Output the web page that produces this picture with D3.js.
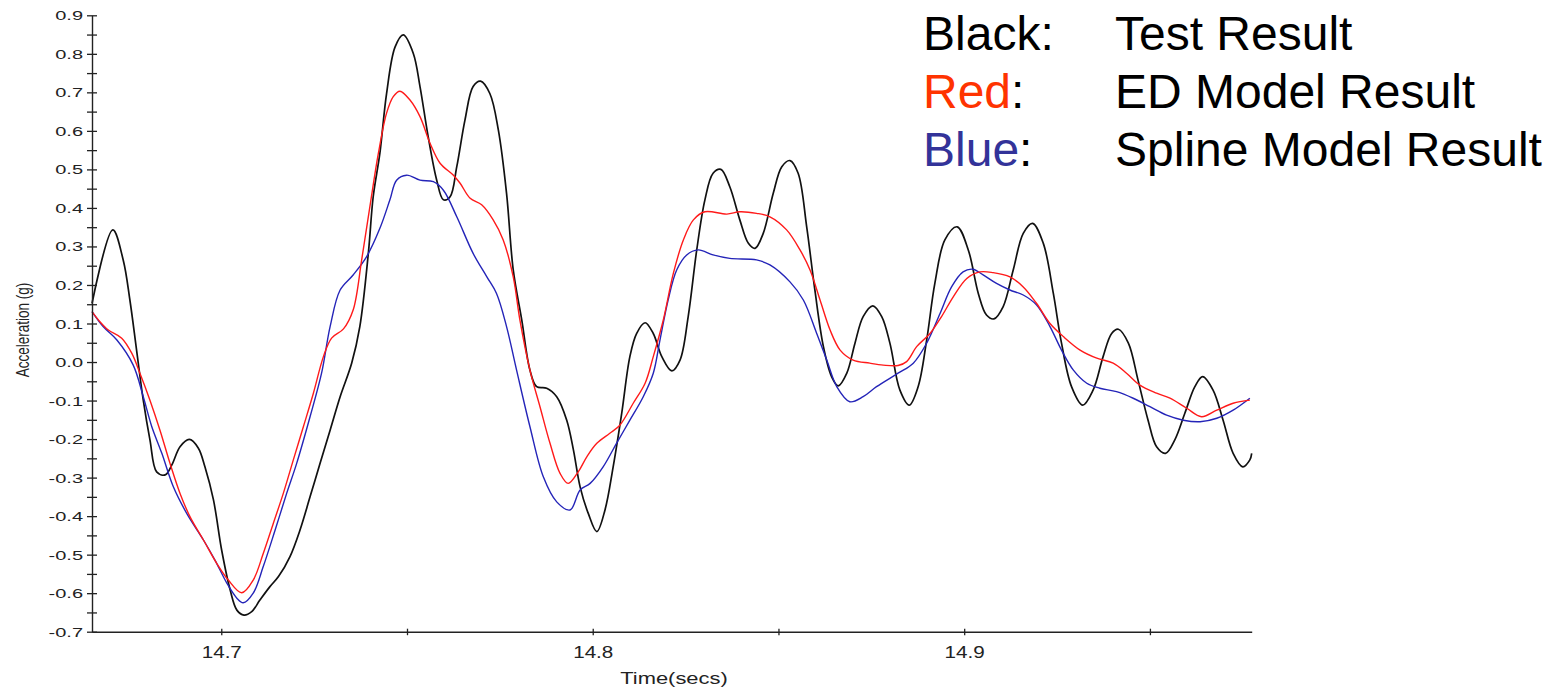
<!DOCTYPE html>
<html>
<head>
<meta charset="utf-8">
<script src="https://cdn.jsdelivr.net/npm/d3@7"></script>
<style>
  html, body { margin: 0; padding: 0; background: #ffffff; }
  svg { display: block; font-family: "Liberation Sans", Arial, sans-serif; }
</style>
</head>
<body>
<svg id="chart" width="1566" height="690"></svg>
<script>
// Measured acceleration (g) versus time (s)
const testResult = [
  [14.6652,0.152],[14.6708,0.343],[14.6736,0.265],[14.6754,0.161],[14.6772,0.031],
  [14.6790,-0.099],[14.6808,-0.202],[14.6826,-0.285],[14.6849,-0.293],[14.6867,-0.267],
  [14.6889,-0.220],[14.6914,-0.201],[14.6938,-0.223],[14.6956,-0.272],[14.6979,-0.358],
  [14.7001,-0.488],[14.7024,-0.592],[14.7042,-0.644],[14.7061,-0.657],[14.7082,-0.648],
  [14.7104,-0.618],[14.7131,-0.583],[14.7154,-0.557],[14.7185,-0.505],[14.7212,-0.436],
  [14.7239,-0.350],[14.7266,-0.263],[14.7293,-0.177],[14.7320,-0.090],[14.7351,-0.003],
  [14.7373,0.092],[14.7396,0.283],[14.7409,0.429],[14.7427,0.542],[14.7445,0.697],
  [14.7468,0.818],[14.7490,0.849],[14.7517,0.801],[14.7535,0.715],[14.7557,0.585],
  [14.7580,0.472],[14.7598,0.421],[14.7616,0.429],[14.7634,0.507],[14.7656,0.628],
  [14.7678,0.715],[14.7698,0.729],[14.7723,0.697],[14.7746,0.602],[14.7768,0.438],
  [14.7786,0.239],[14.7809,0.109],[14.7831,-0.021],[14.7849,-0.064],[14.7876,-0.068],
  [14.7903,-0.090],[14.7930,-0.151],[14.7948,-0.228],[14.7966,-0.324],[14.7988,-0.393],
  [14.8011,-0.440],[14.8033,-0.384],[14.8055,-0.272],[14.8078,-0.133],[14.8100,0.014],
  [14.8118,0.074],[14.8141,0.102],[14.8163,0.074],[14.8186,0.014],[14.8213,-0.023],
  [14.8235,0.005],[14.8257,0.118],[14.8280,0.291],[14.8302,0.421],[14.8324,0.490],
  [14.8345,0.500],[14.8369,0.455],[14.8396,0.369],[14.8419,0.308],[14.8437,0.295],
  [14.8459,0.334],[14.8486,0.438],[14.8509,0.507],[14.8531,0.523],[14.8553,0.490],
  [14.8576,0.351],[14.8598,0.187],[14.8621,0.040],[14.8643,-0.038],[14.8661,-0.062],
  [14.8684,-0.029],[14.8706,0.049],[14.8728,0.118],[14.8754,0.146],[14.8778,0.118],
  [14.8800,0.049],[14.8827,-0.073],[14.8852,-0.112],[14.8876,-0.064],[14.8899,0.057],
  [14.8921,0.204],[14.8948,0.317],[14.8981,0.351],[14.9011,0.291],[14.9038,0.178],
  [14.9060,0.122],[14.9080,0.112],[14.9105,0.144],[14.9132,0.239],[14.9159,0.334],
  [14.9184,0.360],[14.9213,0.308],[14.9240,0.178],[14.9262,0.049],[14.9289,-0.064],
  [14.9319,-0.112],[14.9347,-0.073],[14.9374,0.014],[14.9397,0.074],[14.9415,0.085],
  [14.9442,0.049],[14.9468,-0.047],[14.9495,-0.151],[14.9518,-0.220],[14.9542,-0.237],
  [14.9567,-0.202],[14.9594,-0.133],[14.9621,-0.064],[14.9642,-0.038],[14.9670,-0.073],
  [14.9697,-0.151],[14.9724,-0.237],[14.9750,-0.272],[14.9769,-0.254],[14.9774,-0.237]
];

// ED model prediction
const edModel = [
  [14.6652,0.131],[14.6674,0.104],[14.6696,0.083],[14.6732,0.062],[14.6759,0.023],
  [14.6781,-0.029],[14.6808,-0.099],[14.6835,-0.177],[14.6862,-0.263],[14.6889,-0.341],
  [14.6916,-0.402],[14.6952,-0.462],[14.6988,-0.523],[14.7019,-0.566],[14.7055,-0.599],
  [14.7086,-0.566],[14.7113,-0.497],[14.7140,-0.419],[14.7167,-0.341],[14.7194,-0.254],
  [14.7221,-0.168],[14.7248,-0.081],[14.7275,0.014],[14.7297,0.062],[14.7329,0.086],
  [14.7355,0.135],[14.7378,0.265],[14.7400,0.403],[14.7423,0.542],[14.7445,0.646],
  [14.7463,0.689],[14.7481,0.703],[14.7508,0.680],[14.7535,0.637],[14.7562,0.568],
  [14.7589,0.516],[14.7625,0.485],[14.7643,0.464],[14.7670,0.425],[14.7701,0.408],
  [14.7732,0.369],[14.7759,0.317],[14.7786,0.221],[14.7804,0.109],[14.7831,-0.021],
  [14.7858,-0.116],[14.7885,-0.211],[14.7912,-0.289],[14.7934,-0.315],[14.7961,-0.285],
  [14.7984,-0.246],[14.8011,-0.211],[14.8046,-0.185],[14.8073,-0.164],[14.8109,-0.107],
  [14.8141,-0.055],[14.8163,0.014],[14.8190,0.109],[14.8217,0.230],[14.8244,0.317],
  [14.8271,0.369],[14.8302,0.390],[14.8361,0.384],[14.8396,0.390],[14.8441,0.386],
  [14.8477,0.377],[14.8522,0.343],[14.8558,0.291],[14.8585,0.239],[14.8612,0.161],
  [14.8639,0.083],[14.8666,0.031],[14.8701,0.005],[14.8746,-0.003],[14.8782,-0.008],
  [14.8822,-0.009],[14.8845,0.001],[14.8872,0.040],[14.8908,0.074],[14.8939,0.118],
  [14.8971,0.170],[14.9007,0.217],[14.9042,0.234],[14.9078,0.232],[14.9123,0.221],
  [14.9159,0.195],[14.9195,0.152],[14.9231,0.100],[14.9267,0.066],[14.9312,0.031],
  [14.9357,0.010],[14.9401,-0.003],[14.9437,-0.029],[14.9473,-0.060],[14.9518,-0.081],
  [14.9554,-0.094],[14.9599,-0.120],[14.9639,-0.142],[14.9680,-0.125],[14.9724,-0.107],
  [14.9769,-0.099]
];

// Spline model prediction
const splineModel = [
  [14.6652,0.131],[14.6682,0.092],[14.6719,0.057],[14.6763,-0.008],[14.6790,-0.090],
  [14.6813,-0.168],[14.6840,-0.237],[14.6871,-0.324],[14.6907,-0.393],[14.6952,-0.462],
  [14.6983,-0.514],[14.7015,-0.574],[14.7042,-0.613],[14.7059,-0.625],[14.7086,-0.600],
  [14.7113,-0.531],[14.7145,-0.436],[14.7176,-0.341],[14.7203,-0.263],[14.7239,-0.142],
  [14.7270,-0.029],[14.7293,0.092],[14.7320,0.187],[14.7355,0.226],[14.7391,0.273],
  [14.7427,0.347],[14.7454,0.421],[14.7472,0.472],[14.7499,0.485],[14.7535,0.472],
  [14.7571,0.468],[14.7598,0.446],[14.7634,0.377],[14.7678,0.282],[14.7715,0.221],
  [14.7741,0.178],[14.7768,0.092],[14.7795,-0.021],[14.7831,-0.168],[14.7867,-0.298],
  [14.7903,-0.363],[14.7939,-0.384],[14.7966,-0.332],[14.7993,-0.315],[14.8028,-0.272],
  [14.8064,-0.211],[14.8100,-0.151],[14.8136,-0.090],[14.8163,-0.029],[14.8181,0.057],
  [14.8203,0.161],[14.8226,0.239],[14.8253,0.278],[14.8284,0.291],[14.8324,0.278],
  [14.8369,0.269],[14.8441,0.265],[14.8477,0.252],[14.8531,0.208],[14.8567,0.161],
  [14.8603,0.074],[14.8630,0.005],[14.8657,-0.064],[14.8692,-0.103],[14.8728,-0.090],
  [14.8764,-0.064],[14.8822,-0.029],[14.8863,-0.003],[14.8899,0.049],[14.8935,0.126],
  [14.8966,0.195],[14.8997,0.234],[14.9023,0.241],[14.9051,0.226],[14.9087,0.204],
  [14.9123,0.187],[14.9159,0.174],[14.9195,0.148],[14.9231,0.092],[14.9262,0.031],
  [14.9294,-0.021],[14.9330,-0.055],[14.9365,-0.068],[14.9410,-0.077],[14.9455,-0.094],
  [14.9500,-0.116],[14.9545,-0.138],[14.9590,-0.151],[14.9635,-0.155],[14.9680,-0.146],
  [14.9724,-0.125],[14.9769,-0.094]
];

// Axis ticks: every 0.05 g (labelled every 0.1), every 0.05 s (labelled every 0.1)
const yTicks = d3.range(-14, 19).map(k => k / 20);
const xTicks = [14.70, 14.75, 14.80, 14.85, 14.90, 14.95];
const xLabelled = [14.70, 14.80, 14.90];

const legendRows = [
  { key: "Black", label: "Test Result" },
  { key: "Red",   label: "ED Model Result" },
  { key: "Blue",  label: "Spline Model Result" }
];

const svg = d3.select("#chart");
const axisColor = "#222222";

const x = d3.scaleLinear().domain([14.6652, 14.9774]).range([92, 1251.7]);
const y = d3.scaleLinear().domain([-0.7, 0.9]).range([631.7, 15.3]);

// Series
const line = d3.line()
  .x(d => x(d[0]))
  .y(d => y(d[1]))
  .curve(d3.curveCatmullRom.alpha(0.5));

const series = [
  { data: testResult,  color: "#111111", width: 1.7 },
  { data: splineModel, color: "#2424b8", width: 1.4 },
  { data: edModel,     color: "#ff1a1a", width: 1.4 }
];

svg.append("g").selectAll("path")
  .data(series)
  .join("path")
  .attr("d", s => line(s.data))
  .attr("fill", "none")
  .attr("stroke", s => s.color)
  .attr("stroke-width", s => s.width)
  .attr("stroke-linejoin", "round");

// Y axis
const yLabel = v => {
  const k = Math.round(v * 20);
  if (k % 2 !== 0) return "";
  const s = (k / 20).toFixed(1);
  return s === "-0.0" ? "0.0" : s;
};
const yAxis = svg.append("g")
  .attr("transform", "translate(92,0)")
  .style("color", axisColor)
  .call(d3.axisLeft(y).tickValues(yTicks).tickSize(5).tickSizeOuter(0).tickFormat(yLabel));
yAxis.select(".domain").attr("stroke-width", 1.4);
yAxis.selectAll(".tick line").attr("x1", 5).attr("x2", -5).attr("stroke-width", 1.3);
yAxis.selectAll(".tick text")
  .attr("x", -9 / 1.6)
  .attr("dy", "0.36em")
  .attr("transform", "scale(1.6,1)")
  .style("font-size", "12.5px")
  .style("font-family", "\"Liberation Sans\", Arial, sans-serif")
  .attr("fill", axisColor);

// X axis
const xAxis = svg.append("g")
  .attr("transform", "translate(0,631.7)")
  .style("color", axisColor)
  .call(d3.axisBottom(x).tickValues(xTicks).tickSize(3).tickSizeOuter(0)
    .tickFormat(v => xLabelled.some(t => Math.abs(t - v) < 1e-9) ? v.toFixed(1) : ""));
xAxis.select(".domain").attr("stroke-width", 1.4);
xAxis.selectAll(".tick line").attr("y1", -3).attr("y2", 3.5).attr("stroke-width", 1.3);
xAxis.selectAll(".tick text")
  .attr("y", 26.5)
  .attr("dy", 0)
  .attr("transform", "scale(1.29,1)")
  .style("font-size", "16px")
  .style("font-family", "\"Liberation Sans\", Arial, sans-serif")
  .attr("fill", axisColor);

// Axis titles
svg.append("text")
  .attr("transform", "translate(674,684) scale(1.37,1)")
  .attr("text-anchor", "middle")
  .style("font-size", "16px")
  .attr("fill", axisColor)
  .text("Time(secs)");

svg.append("text")
  .attr("transform", "translate(22,330) rotate(-90) scale(1,1.35)")
  .attr("text-anchor", "middle")
  .attr("dy", "0.36em")
  .style("font-size", "13.5px")
  .attr("fill", axisColor)
  .text("Acceleration (g)");

// Legend
const keyColors = { Black: "#000000", Red: "#ff3300", Blue: "#333399" };
const legend = svg.append("g").style("font-size", "48px");
legendRows.forEach((r, i) => {
  const t = legend.append("text").attr("x", 923).attr("y", 50 + i * 58);
  t.append("tspan").attr("fill", keyColors[r.key]).text(r.key);
  t.append("tspan").attr("fill", "#000000").text(":");
  legend.append("text").attr("x", 1115).attr("y", 50 + i * 58)
    .attr("fill", "#000000").text(r.label);
});
</script>
</body>
</html>
